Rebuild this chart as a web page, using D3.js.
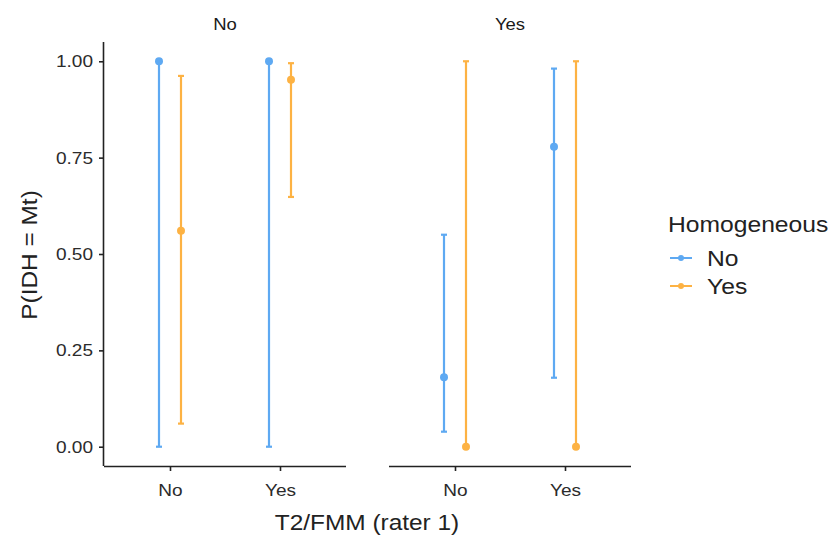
<!DOCTYPE html>
<html>
<head>
<meta charset="utf-8">
<script src="https://cdn.jsdelivr.net/npm/d3@7.9.0/dist/d3.min.js"></script>
<style>
  body { margin: 0; background: #fff; }
  text { font-family: "Liberation Sans", Arial, sans-serif; }
</style>
</head>
<body>
<svg id="chart" width="831" height="537"></svg>
<script>
// Facets (strip labels), x categories, colour groups
const facets = ['No', 'Yes'];
const xCats = ['No', 'Yes'];
const groups = ['No', 'Yes'];
const yTicks = [0, 0.25, 0.5, 0.75, 1];

// Estimates and intervals, one row per facet / x / group
const rowFacet = ['No', 'No', 'No', 'No', 'Yes', 'Yes', 'Yes', 'Yes'];
const rowX     = ['No', 'No', 'Yes', 'Yes', 'No', 'No', 'Yes', 'Yes'];
const rowGroup = ['No', 'Yes', 'No', 'Yes', 'No', 'Yes', 'No', 'Yes'];
const estimate = [1.00, 0.56, 1.00, 0.952, 0.18, 0.00, 0.778, 0.00];
const lower    = [0.00, 0.06, 0.00, 0.648, 0.039, 0.00, 0.179, 0.00];
const upper    = [1.00, 0.962, 1.00, 0.995, 0.55, 1.00, 0.981, 1.00];

const rows = estimate.map((e, i) => ({
    facet: rowFacet[i], x: rowX[i], group: rowGroup[i],
    est: e, lo: lower[i], hi: upper[i]
}));

const colour = d3.scaleOrdinal().domain(groups).range(['#5EA9F2', '#FDB243']);

const svg = d3.select('#chart');

// the source font renders a bit wider than Liberation Sans
function widen(sel, k = 1.12) {
    sel.each(function () {
        const w = this.getComputedTextLength();
        d3.select(this).attr('textLength', w * k).attr('lengthAdjust', 'spacingAndGlyphs');
    });
}

// panel geometry
const panelLeft = [104, 389];
const panelW = 242;
const plotTop = 42, plotBottom = 466;

const y = d3.scaleLinear().domain([-0.05, 1.05]).range([plotBottom, plotTop]);
const dodge = d3.scaleBand().domain(groups).range([-22, 22]);

facets.forEach((f, fi) => {
    const x0 = panelLeft[fi];
    // discrete axis with 0.6 expansion each side
    const x = d3.scalePoint().domain(xCats).range([x0 + panelW * 0.6 / 2.2, x0 + panelW * 1.6 / 2.2]);

    const g = svg.append('g');

    // strip label
    g.append('text')
        .attr('x', x0 + panelW / 2)
        .attr('y', 30)
        .attr('text-anchor', 'middle')
        .attr('font-size', 16.5)
        .attr('fill', '#1a1a1a')
        .text(f)
        .call(widen);

    // x axis
    const xAxis = g.append('g')
        .attr('transform', `translate(0,${plotBottom})`)
        .call(d3.axisBottom(x).tickSize(5).tickSizeOuter(0).tickPadding(13));
    xAxis.select('.domain').attr('d', `M${x0},0.5H${x0 + panelW}`).attr('stroke', '#222').attr('stroke-width', 1.6);
    xAxis.selectAll('.tick line').attr('stroke', '#222').attr('stroke-width', 1.6);
    xAxis.selectAll('.tick text').attr('font-size', 17).attr('fill', '#2b2b2b').call(widen);

    // y axis only on first panel
    if (fi === 0) {
        const yAxis = g.append('g')
            .attr('transform', `translate(${x0},0)`)
            .call(d3.axisLeft(y).tickValues(yTicks).tickFormat(d3.format('.2f')).tickSize(5).tickPadding(6));
        yAxis.select('.domain').attr('d', `M-0.5,${plotTop}V${plotBottom}`).attr('stroke', '#222').attr('stroke-width', 1.6);
        yAxis.selectAll('.tick line').attr('stroke', '#222').attr('stroke-width', 1.6);
        yAxis.selectAll('.tick text').attr('font-size', 17).attr('fill', '#2b2b2b').call(widen);
    }

    const data = rows.filter(r => r.facet === f);
    const cx = d => x(d.x) + dodge(d.group) + dodge.bandwidth() / 2;

    const marks = g.selectAll('.err').data(data).join('g').attr('class', 'err');
    marks.append('line')
        .attr('x1', cx).attr('x2', cx)
        .attr('y1', d => y(d.lo)).attr('y2', d => y(d.hi))
        .attr('stroke', d => colour(d.group)).attr('stroke-width', 2.2);
    marks.append('line')
        .attr('x1', d => cx(d) - 3).attr('x2', d => cx(d) + 3)
        .attr('y1', d => y(d.lo)).attr('y2', d => y(d.lo))
        .attr('stroke', d => colour(d.group)).attr('stroke-width', 2.2);
    marks.append('line')
        .attr('x1', d => cx(d) - 3).attr('x2', d => cx(d) + 3)
        .attr('y1', d => y(d.hi)).attr('y2', d => y(d.hi))
        .attr('stroke', d => colour(d.group)).attr('stroke-width', 2.2);
    marks.append('circle')
        .attr('cx', cx).attr('cy', d => y(d.est)).attr('r', 4)
        .attr('fill', d => colour(d.group));
});

// axis titles
svg.append('text')
    .attr('x', 367).attr('y', 530)
    .attr('text-anchor', 'middle')
    .attr('font-size', 21.8)
    .attr('fill', '#222')
    .text('T2/FMM (rater 1)')
    .call(widen);

svg.append('text')
    .attr('transform', 'translate(37,255) rotate(-90)')
    .attr('text-anchor', 'middle')
    .attr('font-size', 21.8)
    .attr('fill', '#222')
    .text('P(IDH = Mt)')
    .call(widen);

// legend
const legend = svg.append('g').attr('transform', 'translate(668,0)');
legend.append('text')
    .attr('x', 0).attr('y', 232)
    .attr('font-size', 22)
    .attr('fill', '#222')
    .text('Homogeneous')
    .call(widen);

const item = legend.selectAll('.item').data(groups).join('g')
    .attr('class', 'item')
    .attr('transform', (d, i) => `translate(0,${258 + i * 28})`);
item.append('line')
    .attr('x1', 2).attr('x2', 24).attr('y1', 0).attr('y2', 0)
    .attr('stroke', d => colour(d)).attr('stroke-width', 2);
item.append('circle')
    .attr('cx', 13).attr('cy', 0).attr('r', 3)
    .attr('fill', d => colour(d));
item.append('text')
    .attr('x', 39).attr('y', 8)
    .attr('font-size', 22)
    .attr('fill', '#222')
    .text(d => d)
    .call(widen);
</script>
</body>
</html>
